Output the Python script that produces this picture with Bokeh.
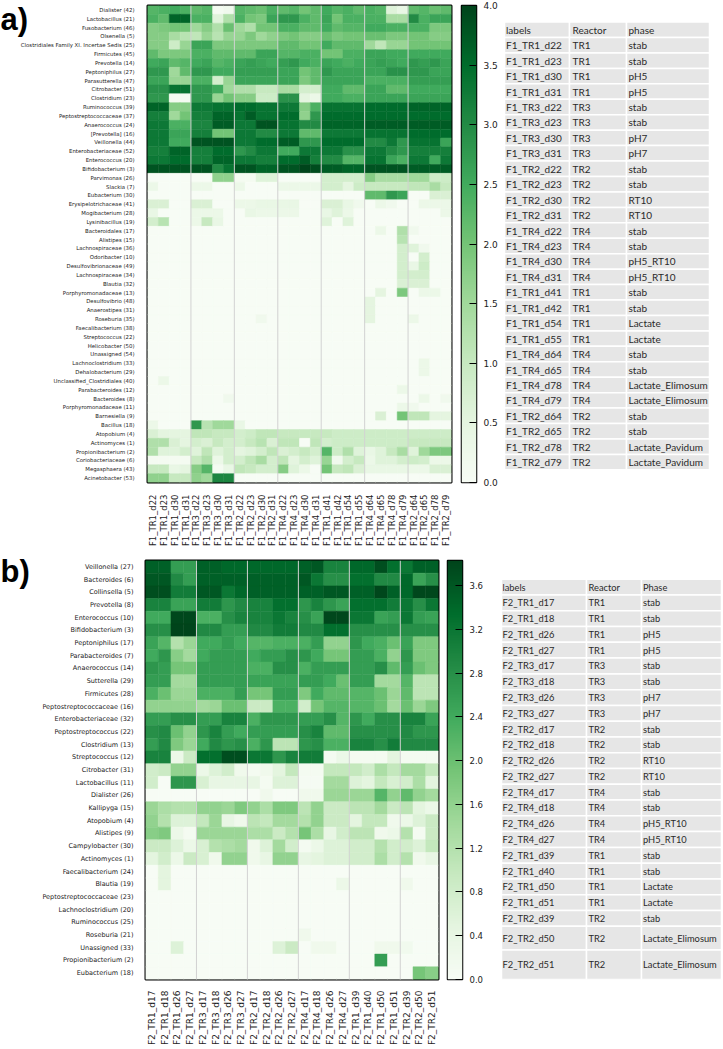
import numpy as np
from bokeh.plotting import figure
from bokeh.models import (ColumnDataSource, LinearColorMapper, FixedTicker, LinearAxis,
                          FactorRange, Range1d, PrintfTickFormatter)
from bokeh.layouts import column, row
from bokeh.palettes import Greens9
from bokeh.transform import transform
from bokeh.core.properties import value
from bokeh.embed import file_html
from bokeh.resources import INLINE

# ---------------- panel a data ----------------
samples_a = ["F1_TR1_d22", "F1_TR1_d23", "F1_TR1_d30", "F1_TR1_d31",
             "F1_TR3_d22", "F1_TR3_d23", "F1_TR3_d30", "F1_TR3_d31",
             "F1_TR2_d22", "F1_TR2_d23", "F1_TR2_d30", "F1_TR2_d31",
             "F1_TR4_d22", "F1_TR4_d23", "F1_TR4_d30", "F1_TR4_d31",
             "F1_TR1_d41", "F1_TR1_d42", "F1_TR1_d54", "F1_TR1_d55",
             "F1_TR4_d64", "F1_TR4_d65", "F1_TR4_d78", "F1_TR4_d79",
             "F1_TR2_d64", "F1_TR2_d65", "F1_TR2_d78", "F1_TR2_d79"]
reactor_a = ["TR1"] * 4 + ["TR3"] * 4 + ["TR2"] * 4 + ["TR4"] * 4 + ["TR1"] * 4 + ["TR4"] * 4 + ["TR2"] * 4
phase_a = ["stab", "stab", "pH5", "pH5", "stab", "stab", "pH7", "pH7",
           "stab", "stab", "RT10", "RT10", "stab", "stab", "pH5_RT10", "pH5_RT10",
           "stab", "stab", "Lactate", "Lactate", "stab", "stab", "Lactate_Elimosum", "Lactate_Elimosum",
           "stab", "stab", "Lactate_Pavidum", "Lactate_Pavidum"]
table_head_a = ["labels", "Reactor", "phase"]

taxa_a = ["Dialister (42)", "Lactobacillus (21)", "Fusobacterium (46)", "Olsenella (5)",
          "Clostridiales Family XI. Incertae Sedis (25)", "Firmicutes (45)", "Prevotella (14)",
          "Peptoniphilus (27)", "Parasutterella (47)", "Citrobacter (51)", "Clostridium (23)",
          "Ruminococcus (39)", "Peptostreptococcaceae (37)", "Anaerococcus (24)", "[Prevotella] (16)",
          "Veillonella (44)", "Enterobacteriaceae (52)", "Enterococcus (20)", "Bifidobacterium (3)",
          "Parvimonas (26)", "Slackia (7)", "Eubacterium (30)", "Erysipelotrichaceae (41)",
          "Mogibacterium (28)", "Lysinibacillus (19)", "Bacteroidales (17)", "Alistipes (15)",
          "Lachnospiraceae (36)", "Odoribacter (10)", "Desulfovibrionaceae (49)", "Lachnospiraceae (34)",
          "Blautia (32)", "Porphyromonadaceae (13)", "Desulfovibrio (48)", "Anaerostipes (31)",
          "Roseburia (35)", "Faecalibacterium (38)", "Streptococcus (22)", "Helicobacter (50)",
          "Unassigned (54)", "Lachnoclostridium (33)", "Dehalobacterium (29)",
          "Unclassified_Clostridiales (40)", "Parabacteroides (12)", "Bacteroides (8)",
          "Porphyromonadaceae (11)", "Barnesiella (9)", "Bacillus (18)", "Atopobium (4)",
          "Actinomyces (1)", "Propionibacterium (2)", "Coriobacteriaceae (6)", "Megasphaera (43)",
          "Acinetobacter (53)"]

heat_a = [
    [2.3, 2.4, 2.5, 2.4, 2.2, 2.3, 0.1, 0.2, 2.3, 2.2, 2.1, 2.4, 2.2, 2.3, 2.0, 2.2, 2.5, 2.3, 2.4, 2.2, 2.4, 2.3, 0.6, 0.4, 2.2, 2.3, 2.1, 2.2],
    [2.4, 2.2, 3.6, 3.6, 2.4, 2.4, 0.6, 1.3, 2.4, 2.0, 1.9, 2.6, 2.8, 2.8, 2.4, 2.2, 2.6, 2.0, 2.4, 2.4, 2.4, 2.4, 1.4, 1.4, 3.0, 2.4, 2.6, 2.6],
    [1.8, 1.9, 2.0, 2.0, 1.5, 1.8, 1.3, 2.1, 1.5, 1.3, 2.0, 2.0, 2.4, 2.4, 2.2, 2.2, 2.5, 2.2, 2.3, 2.3, 2.5, 2.5, 2.4, 2.4, 2.4, 2.4, 1.9, 1.9],
    [1.8, 1.8, 1.4, 1.2, 1.1, 1.6, 1.2, 1.6, 1.6, 1.9, 1.5, 1.7, 1.9, 2.0, 1.8, 1.8, 2.1, 1.9, 2.0, 2.0, 2.1, 2.1, 1.9, 1.9, 2.0, 2.0, 1.8, 1.8],
    [1.8, 1.8, 0.9, 1.6, 2.6, 2.6, 1.9, 1.9, 1.9, 1.9, 1.9, 1.9, 2.2, 2.2, 2.0, 2.0, 2.5, 2.2, 2.2, 2.2, 1.5, 1.1, 1.6, 1.6, 2.0, 2.0, 2.0, 2.0],
    [2.2, 1.9, 1.9, 1.9, 2.4, 2.4, 2.2, 2.2, 2.2, 2.2, 2.6, 2.6, 2.3, 2.3, 2.4, 2.4, 2.0, 2.0, 2.4, 2.4, 2.6, 2.6, 2.5, 2.5, 2.5, 2.5, 2.5, 2.5],
    [2.5, 2.6, 2.2, 2.3, 2.5, 2.6, 2.3, 2.4, 2.6, 2.7, 2.6, 2.5, 2.7, 2.8, 2.5, 2.4, 2.6, 2.5, 2.4, 2.5, 2.6, 2.7, 2.6, 2.5, 2.8, 2.7, 2.8, 2.6],
    [2.8, 2.8, 1.5, 2.2, 2.8, 2.8, 2.5, 2.5, 2.7, 2.7, 2.7, 2.7, 2.6, 2.6, 2.0, 2.2, 2.8, 2.6, 2.6, 2.6, 2.6, 2.6, 2.9, 2.9, 2.8, 2.8, 2.6, 2.6],
    [2.6, 2.6, 1.6, 1.6, 2.4, 2.4, 0.8, 1.6, 2.6, 2.6, 2.6, 2.6, 2.6, 2.6, 1.9, 2.2, 2.6, 2.6, 2.6, 2.6, 2.4, 2.4, 2.4, 2.4, 2.7, 2.7, 2.7, 2.7],
    [2.9, 2.9, 3.4, 3.4, 2.8, 2.8, 2.5, 1.5, 1.3, 1.3, 1.0, 1.0, 1.4, 1.4, 0.8, 0.8, 2.5, 2.5, 2.2, 2.2, 2.6, 2.6, 2.2, 2.2, 2.5, 2.5, 2.5, 2.5],
    [2.8, 2.8, 0.1, 0.1, 2.8, 2.8, 1.6, 2.0, 1.8, 1.8, 0.9, 0.9, 2.9, 2.9, 0.5, 0.3, 2.5, 2.5, 2.4, 2.4, 2.6, 2.6, 2.6, 2.6, 2.6, 2.6, 2.6, 2.6],
    [3.6, 3.6, 1.8, 1.8, 3.3, 3.3, 3.4, 3.4, 3.5, 3.5, 3.4, 3.4, 3.3, 3.3, 1.8, 2.4, 3.4, 3.4, 3.4, 3.4, 3.5, 3.5, 3.5, 3.5, 3.6, 3.6, 3.6, 3.6],
    [3.2, 3.2, 1.5, 2.0, 3.2, 3.2, 3.6, 3.6, 3.4, 3.7, 3.4, 3.4, 3.5, 3.5, 1.7, 2.8, 3.5, 3.5, 3.5, 3.5, 3.5, 3.5, 3.5, 3.5, 3.5, 3.5, 3.5, 3.5],
    [3.3, 3.3, 2.4, 2.4, 3.1, 3.1, 3.7, 3.7, 3.3, 3.3, 3.8, 3.8, 3.4, 3.4, 3.0, 3.0, 3.6, 3.6, 3.6, 3.6, 3.7, 3.7, 3.7, 3.7, 3.7, 3.7, 3.7, 3.7],
    [3.3, 3.3, 2.6, 2.6, 3.2, 3.2, 2.0, 2.0, 3.3, 3.3, 3.0, 3.0, 3.3, 3.3, 2.2, 2.2, 3.3, 3.3, 3.3, 3.3, 3.4, 3.4, 3.4, 3.4, 3.5, 3.5, 3.5, 3.5],
    [3.3, 3.3, 2.5, 2.5, 3.8, 3.8, 3.8, 3.8, 3.3, 3.3, 3.5, 3.5, 3.7, 3.7, 2.8, 2.8, 3.5, 3.5, 3.5, 3.5, 3.0, 3.0, 3.3, 2.8, 3.4, 3.4, 3.4, 2.6],
    [3.2, 3.2, 3.6, 3.6, 3.2, 3.2, 3.5, 3.5, 2.8, 3.0, 3.3, 3.3, 2.5, 2.5, 3.3, 3.3, 3.3, 3.3, 2.9, 2.9, 3.3, 3.3, 3.0, 2.8, 3.2, 3.2, 3.2, 3.2],
    [3.3, 3.3, 3.5, 3.5, 3.2, 3.2, 3.6, 3.6, 3.3, 3.3, 3.2, 3.2, 3.5, 3.5, 3.7, 3.2, 3.0, 3.0, 2.3, 2.3, 3.4, 3.4, 2.6, 2.4, 3.3, 3.3, 2.5, 3.3],
    [3.8, 3.8, 3.8, 3.8, 3.8, 3.8, 3.0, 3.4, 3.8, 3.8, 3.6, 3.6, 3.8, 3.8, 4.0, 3.9, 3.7, 3.7, 3.6, 3.6, 3.8, 3.8, 3.8, 3.8, 3.7, 3.7, 3.7, 3.7],
    [0, 0, 0, 0, 0, 0, 1.7, 1.7, 0.1, 0.1, 0.6, 0.6, 0, 0, 0, 0, 0.8, 0.8, 0.8, 0.8, 1.8, 1.4, 1.4, 1.4, 1.5, 1.5, 0.9, 0.9],
    [0.3, 0, 0, 0, 0.3, 0.3, 0, 0, 0.3, 0, 0, 0, 0.3, 0.3, 0.3, 0.3, 0.8, 0.8, 0.5, 0.9, 1.0, 1.0, 1.0, 1.0, 1.1, 1.1, 1.4, 1.0],
    [0, 0, 0, 0, 0, 0, 0, 0, 0, 0, 0, 0, 0, 0, 0, 0, 0, 0, 0, 0, 2.2, 2.2, 2.8, 2.6, 0, 0, 0.7, 0.7],
    [0.7, 0.7, 0, 0, 0.7, 0.7, 0, 0, 0.3, 0.3, 0.4, 0.4, 0.4, 0.4, 0, 0, 0.7, 0.7, 0.4, 0.2, 0, 0.3, 0.2, 0, 0, 0.3, 0.3, 0.3],
    [0.4, 0, 0, 0, 0.3, 0.3, 0.3, 0, 0, 0.4, 0.3, 0.3, 0.3, 0.3, 0, 0, 0.4, 0.6, 0.3, 0, 0, 0, 0, 0, 0, 0, 0, 0.3],
    [0.8, 1.2, 0, 0, 0.3, 1.0, 0.4, 0, 0, 0, 0, 0, 0, 0, 0, 0, 0.6, 0, 0.6, 0, 0, 0, 0, 0, 0, 0, 0, 0],
    [0, 0, 0, 0, 0, 0, 0, 0, 0, 0, 0, 0, 0, 0, 0, 0, 0, 0, 0, 0, 0, 0.3, 0, 1.3, 0.2, 0, 0, 0],
    [0, 0, 0, 0, 0, 0, 0, 0, 0, 0, 0, 0, 0, 0, 0, 0, 0, 0, 0, 0, 0, 0, 0, 1.2, 0, 0, 0, 0],
    [0, 0, 0, 0, 0, 0, 0, 0, 0, 0, 0, 0, 0, 0, 0, 0, 0, 0, 0, 0, 0, 0, 0, 0.8, 0.6, 0.2, 0, 0],
    [0, 0, 0, 0, 0, 0, 0, 0, 0, 0, 0, 0, 0, 0, 0, 0, 0, 0, 0, 0, 0, 0, 0, 0.8, 0, 0.8, 0, 0],
    [0, 0, 0, 0, 0, 0, 0, 0, 0, 0, 0, 0, 0, 0, 0, 0, 0, 0, 0, 0, 0, 0, 0, 0.8, 0.4, 0.9, 0, 0],
    [0, 0, 0, 0, 0, 0, 0, 0, 0, 0, 0, 0, 0, 0, 0, 0, 0, 0, 0, 0, 0, 0, 0, 0.8, 0.8, 0.8, 0, 0],
    [0, 0, 0, 0, 0, 0, 0, 0, 0, 0, 0, 0, 0, 0, 0, 0, 0, 0, 0, 0, 0, 0, 0, 0.7, 0.7, 0.7, 0, 0],
    [0, 0, 0, 0, 0, 0, 0, 0, 0, 0, 0, 0, 0, 0, 0, 0, 0, 0, 0, 0, 0, 0.5, 0, 1.9, 0, 0.3, 0.3, 0],
    [0, 0, 0, 0, 0, 0, 0, 0, 0, 0, 0, 0, 0, 0, 0, 0, 0, 0, 0, 0, 0.5, 0, 0, 0, 0, 0, 0, 0],
    [0, 0, 0, 0, 0, 0, 0, 0, 0, 0, 0, 0, 0, 0, 0, 0, 0, 0, 0, 0, 0.5, 0, 0, 0, 0, 0, 0, 0],
    [0, 0, 0, 0, 0, 0, 0, 0, 0, 0, 0.2, 0, 0, 0, 0, 0, 0, 0, 0, 0, 0.5, 0, 0, 0, 0.3, 0, 0, 0],
    [0, 0, 0, 0, 0, 0, 0, 0, 0, 0, 0, 0, 0, 0, 0, 0, 0, 0, 0, 0, 0, 0, 0, 0, 0, 0, 0, 0],
    [0, 0, 0, 0, 0, 0, 0, 0, 0, 0, 0, 0, 0, 0, 0, 0, 0, 0, 0, 0, 0, 0, 0, 0, 0, 0, 0, 0],
    [0, 0, 0, 0, 0, 0, 0, 0, 0, 0, 0, 0, 0, 0, 0, 0, 0, 0, 0, 0, 0, 0, 0, 0, 0, 0, 0, 0],
    [0, 0, 0, 0, 0, 0, 0, 0, 0, 0, 0, 0, 0, 0, 0, 0, 0, 0, 0, 0, 0, 0, 0, 0, 0, 0, 0, 0],
    [0, 0, 0, 0, 0, 0, 0, 0, 0, 0, 0, 0, 0, 0, 0, 0, 0, 0, 0, 0, 0, 0, 0, 0, 0, 0.3, 0, 0],
    [0, 0, 0, 0, 0, 0, 0, 0, 0, 0, 0, 0, 0, 0, 0, 0, 0, 0, 0, 0, 0, 0, 0, 0, 0, 0.3, 0, 0],
    [0, 0.3, 0, 0, 0, 0, 0, 0, 0, 0, 0, 0, 0, 0, 0, 0, 0, 0, 0, 0, 0, 0, 0, 0, 0, 0, 0, 0],
    [0, 0, 0, 0, 0, 0, 0, 0, 0, 0, 0, 0, 0, 0, 0, 0, 0, 0, 0, 0, 0, 0, 0, 0.3, 0, 0, 0, 0],
    [0, 0, 0, 0, 0, 0, 0, 0.2, 0, 0, 0, 0, 0, 0, 0, 0, 0, 0, 0, 0, 0, 0, 0, 0, 0, 0.3, 0, 0.2],
    [0, 0, 0, 0, 0, 0, 0, 0, 0, 0, 0, 0, 0, 0, 0, 0, 0, 0, 0, 0, 0, 0, 0, 0.3, 0.2, 0, 0, 0],
    [0, 0, 0, 0, 0, 0, 0, 0, 0, 0, 0, 0, 0, 0, 0, 0, 0, 0, 0, 0, 0, 0.7, 0, 2.0, 1.1, 1.1, 0.5, 0.5],
    [0.3, 0, 0, 0, 2.8, 1.2, 1.5, 1.5, 0.4, 0, 0, 0, 0, 0, 0, 0, 0, 0, 0, 0, 0, 0, 0, 0, 0, 0, 0, 0],
    [0.7, 0.5, 0.5, 0.5, 1.1, 1.1, 1.0, 1.0, 0.8, 0.9, 1.1, 1.1, 1.0, 1.0, 1.0, 1.0, 1.0, 0.9, 0.9, 0.9, 0.9, 0.9, 0.9, 0.9, 0.9, 0.9, 0.9, 0.9],
    [1.3, 1.3, 0.7, 0.5, 0.8, 0.7, 1.0, 0.8, 0.8, 1.0, 1.2, 0.7, 1.1, 1.1, 0.0, 1.1, 0.8, 0.9, 0.9, 0.9, 0.9, 0.9, 0.9, 0.9, 1.0, 1.0, 1.0, 1.0],
    [1.3, 0.6, 0.6, 0.8, 0.6, 1.1, 0.6, 0.8, 0.5, 0.6, 0.8, 1.1, 0.7, 0.8, 1.0, 0.8, 2.3, 0.9, 1.3, 0.6, 0.4, 0.6, 1.0, 1.4, 0.6, 1.5, 1.9, 1.9],
    [0.1, 0.1, 0.1, 0.1, 1.0, 1.3, 0.3, 0.8, 0.8, 1.1, 1.4, 0.8, 1.1, 0.5, 0.8, 0.6, 1.6, 0.2, 0.8, 1.0, 0.3, 0.6, 0.6, 0.8, 0.9, 0.8, 0.3, 0.3],
    [1.0, 1.0, 0.4, 0.5, 1.8, 2.3, 0.1, 0.4, 1.1, 1.0, 0.8, 0.8, 1.8, 0.6, 0.3, 0.0, 2.0, 1.0, 1.1, 0.7, 0.4, 0.4, 0.4, 0.4, 0.3, 0.3, 0.7, 0.7],
    [1.7, 1.7, 1.0, 1.0, 1.7, 1.5, 3.1, 3.1, 0, 0, 0, 0, 0, 0, 0, 0, 0, 0, 0, 0, 0, 0, 0, 0, 0, 0, 0, 0],
]
ticks_a = [0.0, 0.5, 1.0, 1.5, 2.0, 2.5, 3.0, 3.5, 4.0]
vmax_a = 4.0

# ---------------- panel b data ----------------
samples_b = ["F2_TR1_d17", "F2_TR1_d18", "F2_TR1_d26", "F2_TR1_d27",
             "F2_TR3_d17", "F2_TR3_d18", "F2_TR3_d26", "F2_TR3_d27",
             "F2_TR2_d17", "F2_TR2_d18", "F2_TR2_d26", "F2_TR2_d27",
             "F2_TR4_d17", "F2_TR4_d18", "F2_TR4_d26", "F2_TR4_d27",
             "F2_TR1_d39", "F2_TR1_d40", "F2_TR1_d50", "F2_TR1_d51",
             "F2_TR2_d39", "F2_TR2_d50", "F2_TR2_d51"]
reactor_b = ["TR1"] * 4 + ["TR3"] * 4 + ["TR2"] * 4 + ["TR4"] * 4 + ["TR1"] * 4 + ["TR2"] * 3
phase_b = ["stab", "stab", "pH5", "pH5", "stab", "stab", "pH7", "pH7",
           "stab", "stab", "RT10", "RT10", "stab", "stab", "pH5_RT10", "pH5_RT10",
           "stab", "stab", "Lactate", "Lactate", "stab", "Lactate_Elimosum", "Lactate_Elimosum"]
table_head_b = ["labels", "Reactor", "Phase"]

taxa_b = ["Veillonella (27)", "Bacteroides (6)", "Collinsella (5)", "Prevotella (8)",
          "Enterococcus (10)", "Bifidobacterium (3)", "Peptoniphilus (17)", "Parabacteroides (7)",
          "Anaerococcus (14)", "Sutterella (29)", "Firmicutes (28)", "Peptostreptococcaceae (16)",
          "Enterobacteriaceae (32)", "Peptostreptococcus (22)", "Clostridium (13)", "Streptococcus (12)",
          "Citrobacter (31)", "Lactobacillus (11)", "Dialister (26)", "Kallipyga (15)",
          "Atopobium (4)", "Alistipes (9)", "Campylobacter (30)", "Actinomyces (1)",
          "Faecalibacterium (24)", "Blautia (19)", "Peptostreptococcaceae (23)", "Lachnoclostridium (20)",
          "Ruminococcus (25)", "Roseburia (21)", "Unassigned (33)", "Propionibacterium (2)",
          "Eubacterium (18)"]

heat_b = [
    [3.5, 3.5, 2.6, 2.6, 3.5, 3.5, 3.4, 3.4, 3.4, 3.4, 3.4, 3.4, 3.5, 3.6, 3.0, 3.0, 3.4, 3.4, 3.7, 3.3, 3.2, 3.5, 3.5],
    [3.6, 3.6, 2.9, 2.6, 3.5, 3.5, 3.5, 3.5, 3.5, 3.5, 3.5, 3.5, 3.6, 3.2, 2.8, 2.8, 3.3, 3.3, 2.9, 2.9, 3.4, 2.5, 2.8],
    [3.7, 3.7, 3.1, 3.1, 3.6, 3.6, 3.2, 3.4, 3.5, 3.5, 3.5, 3.5, 3.5, 3.5, 3.6, 3.6, 3.5, 3.5, 3.8, 3.5, 3.4, 3.8, 3.8],
    [3.0, 3.0, 2.5, 2.5, 3.1, 3.1, 2.7, 2.9, 3.0, 3.0, 3.3, 3.3, 2.7, 3.0, 2.7, 2.5, 3.3, 3.3, 3.3, 3.1, 3.2, 2.8, 3.2],
    [2.4, 2.4, 3.8, 3.8, 2.3, 2.3, 2.8, 3.0, 3.0, 3.0, 3.2, 3.0, 2.8, 2.5, 3.8, 3.8, 3.2, 3.2, 2.5, 2.6, 3.2, 2.6, 2.5],
    [2.8, 2.8, 3.9, 3.9, 2.9, 2.9, 2.6, 2.6, 2.9, 2.9, 3.1, 3.1, 2.9, 2.9, 3.3, 3.3, 2.8, 2.8, 2.8, 2.8, 2.8, 2.8, 2.8],
    [2.5, 2.2, 1.2, 1.5, 2.4, 2.4, 2.6, 2.4, 2.2, 2.2, 2.3, 2.3, 2.3, 2.6, 1.6, 1.6, 2.7, 2.4, 2.3, 2.0, 2.5, 1.8, 1.8],
    [2.4, 2.7, 1.7, 1.4, 2.4, 2.6, 2.6, 2.6, 2.4, 2.6, 2.6, 2.8, 2.7, 2.4, 1.9, 1.9, 2.6, 2.6, 2.3, 1.6, 2.7, 1.8, 1.8],
    [2.7, 2.6, 1.9, 1.9, 2.6, 2.6, 2.6, 2.6, 2.3, 2.3, 2.8, 2.8, 2.3, 2.6, 2.6, 2.6, 2.6, 2.6, 2.8, 2.1, 2.6, 2.0, 1.8],
    [2.6, 2.6, 1.4, 1.4, 2.6, 2.6, 2.6, 2.6, 2.5, 2.5, 2.5, 2.5, 2.6, 2.6, 2.4, 2.0, 2.6, 2.6, 1.4, 1.4, 2.2, 1.1, 1.1],
    [2.3, 2.0, 1.5, 1.5, 2.3, 2.3, 2.3, 2.6, 1.9, 1.9, 2.6, 2.6, 1.8, 2.4, 2.1, 2.1, 2.2, 2.2, 2.0, 1.5, 2.1, 1.1, 1.1],
    [1.6, 1.6, 1.6, 1.6, 1.4, 1.5, 2.0, 2.0, 0.9, 0.9, 2.3, 2.3, 0.8, 1.9, 2.2, 2.2, 2.2, 2.2, 2.0, 1.4, 2.0, 1.5, 1.8],
    [2.6, 2.6, 2.8, 2.8, 2.6, 2.6, 3.0, 3.0, 2.3, 2.7, 2.7, 2.7, 2.6, 2.6, 2.8, 2.2, 2.7, 2.4, 2.8, 2.8, 3.0, 3.0, 2.5],
    [2.8, 2.9, 2.0, 1.6, 2.7, 3.0, 2.6, 2.4, 2.6, 2.6, 2.6, 2.6, 2.8, 3.0, 2.1, 2.1, 2.8, 2.8, 2.8, 2.8, 2.9, 2.7, 2.7],
    [2.6, 2.9, 1.8, 1.5, 2.4, 2.9, 2.7, 2.8, 2.3, 2.7, 1.1, 1.1, 2.7, 2.8, 2.3, 2.3, 3.0, 3.0, 2.8, 3.1, 2.9, 2.9, 2.9],
    [3.0, 3.0, 0.3, 0.9, 3.3, 3.3, 3.7, 3.7, 3.2, 3.2, 2.7, 3.0, 3.1, 3.1, 0.1, 0.3, 0.1, 0.1, 0.1, 0.5, 0.1, 0.1, 0.1],
    [0.8, 0.9, 1.6, 1.6, 0.3, 0.6, 0.8, 0.2, 0.1, 0.2, 0.5, 1.0, 0.1, 0.1, 1.0, 1.0, 1.0, 0.8, 1.3, 1.0, 1.4, 1.4, 1.0],
    [0.8, 0, 2.7, 2.7, 0.7, 0.4, 0.4, 0.4, 0.4, 0.1, 0.6, 0.6, 0.05, 0.05, 1.4, 1.4, 0.6, 0.5, 1.0, 0.7, 0.8, 1.3, 0.5],
    [0, 0, 0, 0, 0, 0, 0, 0, 0, 0.2, 0, 0, 0.2, 0.2, 1.5, 1.5, 1.5, 1.5, 2.2, 1.6, 2.1, 1.6, 1.4],
    [1.5, 1.3, 1.2, 1.2, 1.6, 1.6, 1.5, 1.8, 1.6, 1.3, 1.8, 1.8, 1.1, 1.6, 0.9, 0.9, 1.1, 1.1, 1.4, 0.9, 1.1, 0.5, 0.3],
    [1.6, 1.2, 0.6, 0.6, 1.0, 1.5, 0.4, 0.2, 1.1, 1.0, 1.4, 1.4, 1.2, 1.6, 0.9, 0.9, 0.5, 1.0, 1.0, 0.2, 0.3, 0.6, 0.9],
    [1.7, 1.8, 0.3, 0.1, 1.5, 1.5, 1.5, 1.5, 1.3, 1.3, 0.9, 1.2, 1.9, 1.3, 0.4, 0.8, 1.1, 1.1, 0.2, 0.3, 1.2, 0.1, 0.9],
    [0.9, 0.9, 0.6, 0.3, 0.7, 1.2, 1.3, 1.4, 0.2, 0.6, 1.4, 0.8, 0.1, 0.3, 0.6, 0.6, 0.8, 0.8, 1.2, 0.8, 0.8, 0.6, 1.0],
    [0.5, 0.8, 0.3, 0.9, 0.7, 0.2, 1.6, 1.6, 0.2, 0.4, 1.6, 1.6, 0.4, 0.5, 0.6, 0.6, 0.8, 0.8, 1.3, 0.8, 1.2, 0.2, 0.4],
    [0, 0.5, 0, 0, 0, 0, 0, 0, 0, 0, 0, 0, 0, 0, 0, 0, 0, 0, 0, 0, 0, 0, 0],
    [0, 0.5, 0, 0, 0, 0, 0, 0, 0, 0, 0, 0, 0, 0, 0, 0.3, 0, 0, 0, 0, 0.2, 0, 0],
    [0, 0, 0, 0, 0, 0, 0, 0, 0, 0, 0, 0, 0, 0, 0, 0, 0, 0, 0, 0, 0, 0, 0],
    [0, 0, 0, 0, 0, 0, 0, 0, 0, 0, 0, 0, 0, 0, 0, 0, 0, 0, 0, 0, 0, 0, 0],
    [0, 0, 0, 0, 0, 0, 0, 0, 0, 0, 0, 0, 0, 0, 0, 0, 0, 0, 0, 0, 0, 0, 0],
    [0, 0, 0, 0, 0, 0, 0, 0, 0, 0, 0, 0, 0.2, 0, 0, 0, 0, 0, 0, 0, 0, 0, 0],
    [0, 0, 0.6, 0, 0, 0, 0, 0, 0, 0, 0.6, 0.9, 0, 0.2, 0.2, 0, 0, 0, 0.2, 0.2, 0.15, 0, 0],
    [0, 0, 0, 0, 0, 0, 0, 0, 0, 0, 0, 0, 0, 0, 0, 0, 0, 0, 2.6, 0, 0, 0, 0],
    [0, 0, 0, 0, 0, 0, 0, 0, 0, 0, 0, 0, 0, 0, 0, 0, 0, 0, 0, 0, 0, 1.9, 1.7],
]
ticks_b = [0.0, 0.4, 0.8, 1.2, 1.6, 2.0, 2.4, 2.8, 3.2, 3.6]
vmax_b = 3.83


def interp_palette(pal, n):
    rgb = [tuple(int(c[i:i + 2], 16) for i in (1, 3, 5)) for c in pal]
    out = []
    for k in range(n):
        t = k / (n - 1) * (len(rgb) - 1)
        i = min(int(t), len(rgb) - 2)
        f = t - i
        c = [round(rgb[i][j] * (1 - f) + rgb[i + 1][j] * f) for j in range(3)]
        out.append("#%02x%02x%02x" % tuple(c))
    return out


greens = interp_palette(list(reversed(Greens9)), 256)
FONT = "DejaVu Sans"


def heatmap(samples, taxa, vals, mapper, width, height, borders,
            ylab_px, xlab_px, ystand, xstand):
    bl, br, bt, bb = borders
    xs, ys, vs = [], [], []
    for i, t in enumerate(taxa):
        for j, s in enumerate(samples):
            xs.append(s)
            ys.append(t)
            vs.append(vals[i][j])
    src = ColumnDataSource(dict(x=xs, y=ys, v=vs))
    p = figure(width=width, height=height,
               x_range=FactorRange(factors=samples),
               y_range=FactorRange(factors=list(reversed(taxa))),
               output_backend="svg", toolbar_location=None,
               min_border_left=bl, min_border_right=br, min_border_top=bt, min_border_bottom=bb)
    p.rect(x="x", y="y", width=1, height=1, source=src,
           fill_color=transform("v", mapper), line_color=transform("v", mapper), line_width=0.5)
    bounds = list(range(4, len(samples), 4))
    p.segment(x0=bounds, x1=bounds, y0=[0] * len(bounds), y1=[len(taxa)] * len(bounds),
              line_color="#d2d2d2", line_width=1)
    p.grid.grid_line_color = None
    p.outline_line_color = "black"
    p.outline_line_width = 2
    p.outline_line_alpha = 1
    p.axis.axis_line_color = None
    p.axis.major_tick_line_color = None
    p.axis.minor_tick_line_color = None
    p.yaxis.major_label_text_font = FONT
    p.yaxis.major_label_text_font_size = f"{ylab_px}px"
    p.yaxis.major_label_text_color = "#222222"
    p.yaxis.major_label_standoff = ystand
    p.xaxis.major_label_text_font = FONT
    p.xaxis.major_label_text_font_size = f"{xlab_px}px"
    p.xaxis.major_label_text_color = "#222222"
    p.xaxis.major_label_standoff = xstand
    p.xaxis.major_label_orientation = np.pi / 2
    return p


def colorbar_fig(mapper, vmax, ticks, width, height, left, top, bottom, bar_w, lab_px, stand):
    # a narrow figure whose frame is the colour bar; ticks on a right-hand axis
    p = figure(width=width, height=height, output_backend="svg", toolbar_location=None,
               x_range=Range1d(0, 1), y_range=Range1d(0, vmax),
               min_border_left=left, min_border_right=width - left - bar_w,
               min_border_top=top, min_border_bottom=bottom,
               x_axis_location=None, y_axis_location=None)
    grad = np.linspace(0, vmax, 512).reshape(-1, 1)
    p.image(image=[grad], x=0, y=0, dw=1, dh=vmax, color_mapper=mapper)
    p.grid.visible = False
    p.outline_line_color = "black"
    p.outline_line_width = 1.5
    ax = LinearAxis(ticker=FixedTicker(ticks=ticks), formatter=PrintfTickFormatter(format="%.1f"),
                    axis_line_color=None, major_tick_line_color="black",
                    major_tick_in=7, major_tick_out=0, minor_tick_line_color=None,
                    major_label_text_font=FONT, major_label_text_font_size=f"{lab_px}px",
                    major_label_text_color="#222222", major_label_standoff=stand)
    p.add_layout(ax, "right")
    return p


def table(head, labels, reactors, phases, width, height, top, bottom,
          x_edges, row_edges, text_x, font_px):
    # frame borders match the neighbouring heatmap (rows align plot frames);
    # the y range is set so that one data unit is one canvas pixel from the top
    p = figure(width=width, height=height, x_range=Range1d(0, width),
               y_range=Range1d(height - bottom, top),
               output_backend="svg", toolbar_location=None,
               min_border_left=0, min_border_right=0, min_border_top=top, min_border_bottom=bottom,
               x_axis_location=None, y_axis_location=None)
    p.grid.visible = False
    p.outline_line_color = None
    L, R, T, B = [], [], [], []
    for r in range(len(row_edges) - 1):
        for c in range(3):
            L.append(x_edges[c])
            R.append(x_edges[c + 1])
            T.append(row_edges[r])
            B.append(row_edges[r + 1])
    p.quad(left=L, right=R, top=T, bottom=B, fill_color="#e6e6e6",
           line_color="white", line_width=1.5)
    rows_txt = [head] + [list(t) for t in zip(labels, reactors, phases)]
    tx, ty, tt = [], [], []
    for r, cells in enumerate(rows_txt):
        yc = (row_edges[r] + row_edges[r + 1]) / 2
        for c, s in enumerate(cells):
            tx.append(text_x[c])
            ty.append(yc)
            tt.append(s)
    p.text(x=tx, y=ty, text=tt, text_baseline="middle", text_align="left",
           text_font=value("Lato"), text_font_size=f"{font_px}px", text_color="#2a2a2a")
    return p


def tag_fig(tag, size, shift_up):
    p = figure(width=size, height=size, x_range=Range1d(0, size), y_range=Range1d(size, 0),
               output_backend="svg", toolbar_location=None, min_border=0,
               x_axis_location=None, y_axis_location=None,
               margin=(-shift_up, 0, shift_up - size, 0))
    p.grid.visible = False
    p.outline_line_color = None
    p.background_fill_alpha = 0
    p.border_fill_alpha = 0
    p.text(x=[0], y=[1], text=[tag], text_baseline="top", text_align="left",
           text_font=value("Liberation Sans"), text_font_style="bold",
           text_font_size="31px", text_color="black")
    return p


# ---------------- layout ----------------
map_a = LinearColorMapper(palette=greens, low=0, high=vmax_a)
map_b = LinearColorMapper(palette=greens, low=0, high=vmax_b)

HA, TOP_A, BOT_A = 552, 5, 70
pa = heatmap(samples_a, taxa_a, heat_a, map_a, 453, HA, borders=(147, 2, TOP_A, BOT_A),
             ylab_px=5.4, xlab_px=8.5, ystand=7, xstand=6)
ca = colorbar_fig(map_a, vmax_a, ticks_a, 47, HA, left=8, top=TOP_A, bottom=BOT_A,
                  bar_w=15, lab_px=9, stand=7)
row_h_a = 15.44
edges_a = [21.6 + row_h_a * k for k in range(len(samples_a) + 2)]
ta = table(table_head_a, samples_a, reactor_a, phase_a, 222, HA, TOP_A, BOT_A,
           x_edges=[4, 69, 126, 209], row_edges=edges_a, text_x=[5.5, 72, 128], font_px=10)

HB, TOP_B, BOT_B = 496, 8, 63
pb = heatmap(samples_b, taxa_b, heat_b, map_b, 440, HB, borders=(145, 2, TOP_B, BOT_B),
             ylab_px=6.5, xlab_px=9, ystand=6, xstand=5)
cbb = colorbar_fig(map_b, vmax_b, ticks_b, 57, HB, left=7, top=TOP_B, bottom=BOT_B,
                   bar_w=15, lab_px=8.5, stand=7)
row_h_b = [16] * 22 + [24, 30]
edges_b = [27]
for h in row_h_b:
    edges_b.append(edges_b[-1] + h)
tb = table(table_head_b, samples_b, reactor_b, phase_b, 225, HB, TOP_B, BOT_B,
           x_edges=[4, 89, 144, 224], row_edges=edges_b, text_x=[5, 91, 145.5], font_px=9.3)

layout = column(row(pa, ca, ta), tag_fig("a)", 40, HA), row(pb, cbb, tb), tag_fig("b)", 40, HB))
open("out.html", "w").write(file_html(layout, INLINE))
